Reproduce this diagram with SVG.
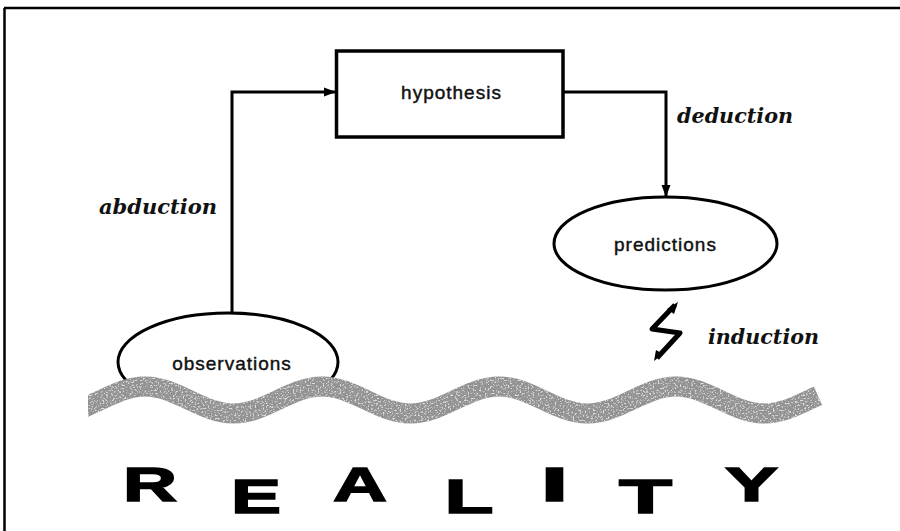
<svg xmlns="http://www.w3.org/2000/svg" width="900" height="531" viewBox="0 0 900 531">
<style>
.frame{stroke:#000;stroke-width:2.5;fill:none}
.box{fill:#fff;stroke:#000;stroke-width:3.5}
.ell{fill:#fff;stroke:#000;stroke-width:3}
.conn{fill:none;stroke:#000;stroke-width:3}
.lbl{font-family:"Liberation Sans",Arial,sans-serif;font-size:19px;letter-spacing:1px;fill:#111;stroke:#111;stroke-width:0.45;text-anchor:middle}
.proc{font-family:"DejaVu Serif","Liberation Serif",serif;font-weight:bold;font-style:italic;font-size:21px;fill:#111}
.real{font-family:"Liberation Sans",Arial,sans-serif;font-weight:bold;font-size:48px;fill:#000;text-anchor:middle;stroke:#000;stroke-width:1.5}
</style>
<defs>
<marker id="arr" markerUnits="userSpaceOnUse" markerWidth="13" markerHeight="10" refX="12" refY="5" orient="auto">
<path d="M0,0.5 L12,5 L0,9.5 z" fill="#000"/>
</marker>
<clipPath id="waveClip"><polygon points="88,355 799.5,355 838.1,440 88,440"/></clipPath>
<clipPath id="aboveWave"><path d="M40,290 L56.5,290 L56.5,413.5 C88.7,413.5 112.8,386.5 145,386.5 S201.3,413.5 233.5,413.5 S289.8,386.5 322,386.5 S378.3,413.5 410.5,413.5 L410.5,290 Z"/></clipPath>
<filter id="grain" filterUnits="userSpaceOnUse" x="80" y="360" width="760" height="80">
<feTurbulence type="fractalNoise" baseFrequency="0.6" numOctaves="1" seed="5" result="noise"/>
<feColorMatrix in="noise" type="matrix" values="0 0 0 0 0.74  0 0 0 0 0.74  0 0 0 0 0.74  6 0 0 0 -3.2" result="light"/>
<feComposite in="light" in2="SourceGraphic" operator="in" result="lightIn"/>
<feColorMatrix in="noise" type="matrix" values="0 0 0 0 0.3  0 0 0 0 0.3  0 0 0 0 0.3  0 -6 0 0 2.45" result="dark"/>
<feComposite in="dark" in2="SourceGraphic" operator="in" result="darkIn"/>
<feMerge><feMergeNode in="SourceGraphic"/><feMergeNode in="lightIn"/><feMergeNode in="darkIn"/></feMerge>
</filter>
</defs>

<g id="frame">
<line class="frame" x1="4" y1="8" x2="900" y2="8"/>
<line class="frame" x1="4.5" y1="8" x2="4.5" y2="531"/>
</g>

<g id="connectors">
<polyline class="conn" points="232,313 232,92 336,92" marker-end="url(#arr)"/>
<polyline class="conn" points="563,92 666,92 666,197" marker-end="url(#arr)"/>
</g>

<g id="hypothesis">
<rect class="box" x="336.5" y="51" width="226.5" height="86"/>
<text class="lbl" x="451.5" y="99">hypothesis</text>
</g>

<g id="predictions">
<ellipse class="ell" cx="665.5" cy="243.5" rx="111.5" ry="46.5"/>
<text class="lbl" x="665.5" y="251">predictions</text>
</g>

<g id="observations">
<ellipse class="ell" cx="228" cy="362" rx="110" ry="49" clip-path="url(#aboveWave)"/>
<text class="lbl" x="232" y="370">observations</text>
</g>

<g id="labels">
<text class="proc" x="99" y="214" textLength="118" lengthAdjust="spacingAndGlyphs">abduction</text>
<text class="proc" x="677" y="123" textLength="116" lengthAdjust="spacingAndGlyphs">deduction</text>
<text class="proc" x="708" y="344" textLength="111" lengthAdjust="spacingAndGlyphs">induction</text>
</g>

<g id="induction-bolt">
<path d="M675,305 L652,329 L680,333 L657,358" fill="none" stroke="#000" stroke-width="5" stroke-linejoin="round"/>
<path d="M678,302 L667,309 L674,314 z" fill="#000"/>
<path d="M654,361 L656,350 L663,354 z" fill="#000"/>
</g>

<g id="reality-wave" clip-path="url(#waveClip)">
<path d="M56.5,413.5 C88.7,413.5 112.8,386.5 145,386.5 S201.3,413.5 233.5,413.5 S289.8,386.5 322,386.5 S378.3,413.5 410.5,413.5 S466.8,386.5 499,386.5 S555.3,413.5 587.5,413.5 S643.8,386.5 676,386.5 S732.3,413.5 764.5,413.5 S820.8,386.5 853,386.5" fill="none" stroke="#939393" stroke-width="20" filter="url(#grain)"/>
</g>

<g id="reality">
<text class="real" x="150" y="501" textLength="54" lengthAdjust="spacingAndGlyphs">R</text>
<text class="real" x="256" y="513" textLength="50" lengthAdjust="spacingAndGlyphs">E</text>
<text class="real" x="360" y="501" textLength="54" lengthAdjust="spacingAndGlyphs">A</text>
<text class="real" x="469" y="513" textLength="49" lengthAdjust="spacingAndGlyphs">L</text>
<text class="real" x="554.5" y="501" textLength="28" lengthAdjust="spacingAndGlyphs">I</text>
<text class="real" x="645.5" y="513" textLength="53" lengthAdjust="spacingAndGlyphs">T</text>
<text class="real" x="751.5" y="501" textLength="53" lengthAdjust="spacingAndGlyphs">Y</text>
</g>
</svg>
